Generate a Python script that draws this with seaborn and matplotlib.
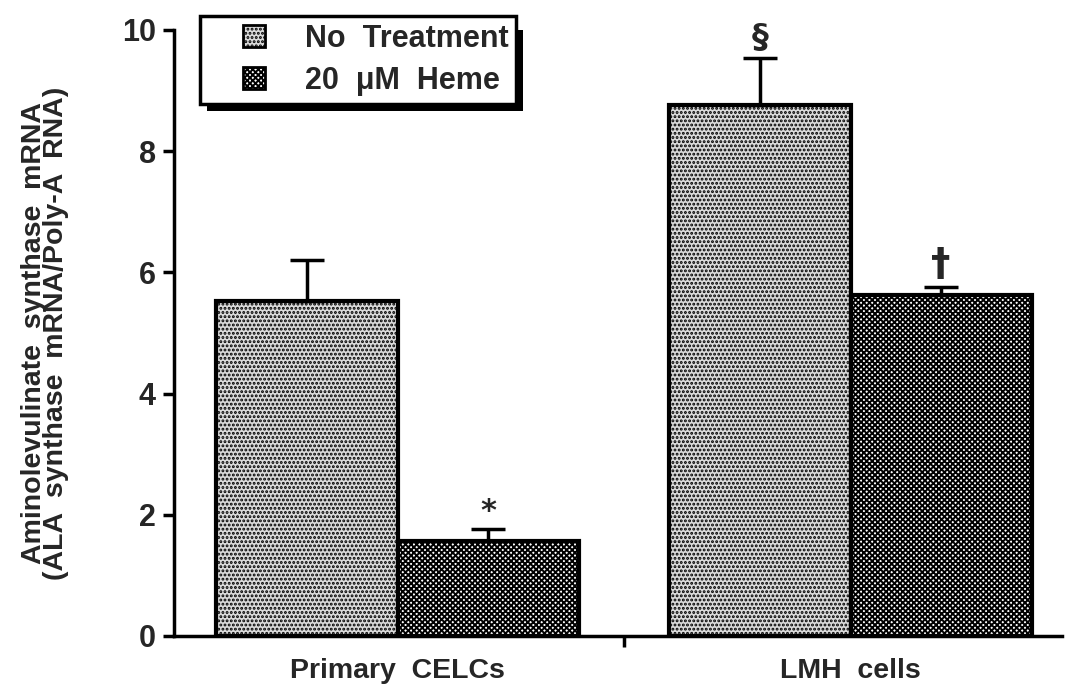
import matplotlib
matplotlib.use("Agg")
import matplotlib.pyplot as plt
import seaborn as sns
import pandas as pd
from matplotlib.patches import Patch, Rectangle
from matplotlib.legend_handler import HandlerPatch

# Data
cells = ["Primary  CELCs", "LMH  cells"]
treatments = ["No  Treatment", "20  \u03bcM  Heme"]
no_treatment = [5.53, 8.76]
heme = [1.57, 5.63]
no_treatment_err = [0.67, 0.78]
heme_err = [0.20, 0.13]
marks_no_treatment = ["", "\u00a7"]
marks_heme = ["*", "\u2020"]
yticks = [0, 2, 4, 6, 8, 10]

df = pd.DataFrame({
    "cell": cells * 2,
    "treatment": [treatments[0]] * 2 + [treatments[1]] * 2,
    "value": no_treatment + heme,
})

sns.set_theme(style="ticks")
plt.rcParams["font.family"] = ["Liberation Sans", "DejaVu Sans"]
plt.rcParams["font.weight"] = "bold"
plt.rcParams["hatch.linewidth"] = 1.4
plt.rcParams["hatch.color"] = "black"

fig = plt.figure(figsize=(10.67, 6.91), dpi=100)
ax = fig.add_axes([0.163, 0.0796, 0.832, 0.877])

face = {treatments[0]: "#dadada", treatments[1]: "white"}
sns.barplot(data=df, x="cell", y="value", hue="treatment", order=cells,
            hue_order=treatments, palette=face, width=0.8, dodge=True,
            edgecolor="black", linewidth=3, errorbar=None, legend=False, ax=ax)

hatches = {treatments[0]: "....", treatments[1]: "xxxxxx"}
errs = {treatments[0]: no_treatment_err, treatments[1]: heme_err}
marks = {treatments[0]: marks_no_treatment, treatments[1]: marks_heme}
mark_size = {"*": 22, "\u00a7": 24, "\u2020": 28}

for cont, tr in zip(ax.containers, treatments):
    for i, p in enumerate(cont.patches):
        p.set_hatch(hatches[tr])
        p.set_zorder(2)
        xc = p.get_x() + p.get_width() / 2
        top = p.get_height()
        e = errs[tr][i]
        ax.errorbar([xc], [top], yerr=[[0], [e]], fmt="none", ecolor="black",
                    elinewidth=2.5, capsize=12, capthick=2.5, zorder=3)
        m = marks[tr][i]
        if m:
            ax.annotate(m, (xc, top + e), xytext=(0, 2), textcoords="offset points",
                        ha="center", va="bottom", fontsize=mark_size[m],
                        fontweight="bold", family=["DejaVu Sans"])

ax.set_ylim(0, 10)
ax.set_xlim(-0.494, 1.466)
ax.set_yticks(yticks)
ax.set_yticklabels([str(t) for t in yticks], fontsize=22, fontweight="bold")
ax.set_xticks([0.5])
ax.set_xticklabels([""])
for i, c in enumerate(cells):
    ax.text(i, -0.037, c, transform=ax.get_xaxis_transform(), ha="center", va="top",
            fontsize=20.5, fontweight="bold")
ax.tick_params(axis="both", direction="out", length=8, width=2.5, color="black")
ax.tick_params(axis="y", pad=5)
ax.set_xlabel("")
ax.set_ylabel("Aminolevulinate  synthase  mRNA\n(ALA  synthase  mRNA/Poly-A  RNA)",
              fontsize=20.5, fontweight="bold", linespacing=0.82, labelpad=38)
sns.despine(ax=ax)
for s in ["left", "bottom"]:
    ax.spines[s].set_linewidth(2.5)
    ax.spines[s].set_color("black")


def square_at_right(legend, orig_handle, xdescent, ydescent, width, height, fontsize):
    # small square swatch placed at the right end of the handle box
    return Rectangle((-xdescent + width - height, -ydescent), height, height)


handles = [Patch(facecolor=face[t], edgecolor="black", hatch=hatches[t], linewidth=2)
           for t in treatments]
leg = ax.legend(handles, treatments, loc="upper left", bbox_to_anchor=(0.029, 1.023),
                borderaxespad=0, frameon=True, fancybox=False, shadow=False,
                framealpha=1.0,
                handler_map={Patch: HandlerPatch(patch_func=square_at_right)},
                handlelength=1.9, handleheight=0.75, handletextpad=1.3,
                prop={"size": 22, "weight": "bold"}, borderpad=0.25,
                labelspacing=0.4)
leg.get_frame().set_edgecolor("black")
leg.get_frame().set_linewidth(2.5)
leg.get_frame().set_facecolor("white")
leg.set_zorder(5)

# Drop shadow behind the legend box
fig.canvas.draw()
bb = leg.get_frame().get_window_extent()
shadow = Rectangle((bb.x0 + 7, bb.y0 - 7), bb.width, bb.height, transform=None,
                   facecolor="black", edgecolor="none", zorder=4)
ax.add_artist(shadow)

fig.savefig("out.png", dpi=100)
